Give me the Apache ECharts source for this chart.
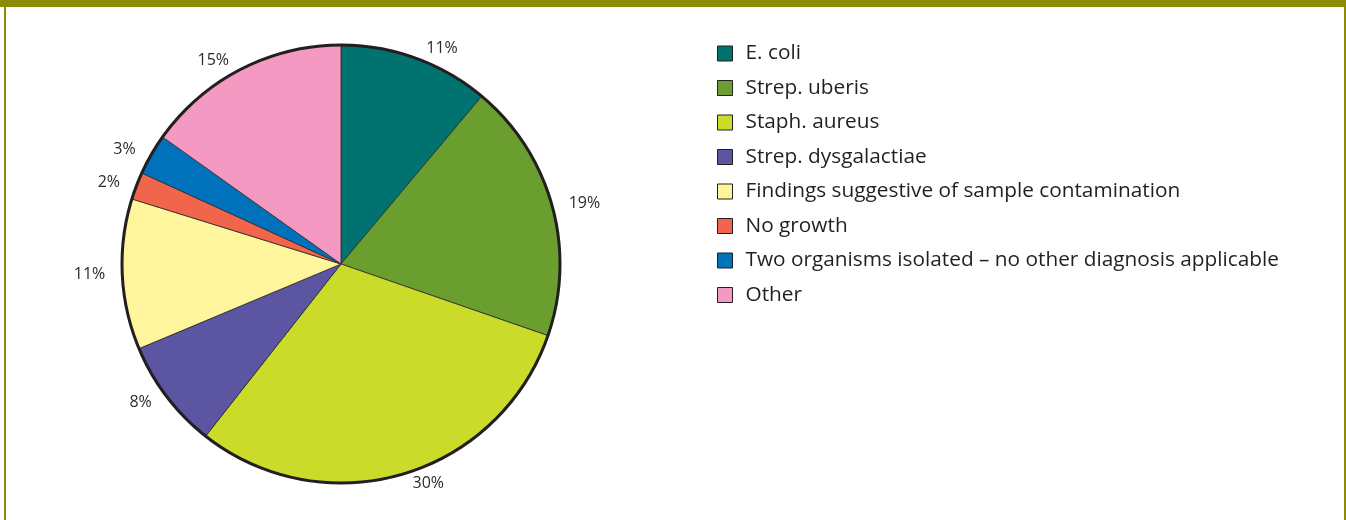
<!DOCTYPE html>
<html>
<head>
<meta charset="utf-8">
<script src="https://cdn.jsdelivr.net/npm/echarts@6/dist/echarts.min.js"></script>
<style>
  html, body { margin: 0; padding: 0; background: #fff; }
  #frame { position: relative; width: 1346px; height: 520px; overflow: hidden; }
  #topbar { position: absolute; left: 0; top: 0; width: 1346px; height: 7px; background: #8b8b07; }
  #leftbar { position: absolute; left: 4px; top: 0; width: 2px; height: 520px; background: #8b8b07; }
  #rightbar { position: absolute; left: 1344px; top: 0; width: 2px; height: 520px; background: #8b8b07; }
  #main { position: absolute; left: 0; top: 0; width: 1346px; height: 520px; }
</style>
</head>
<body>
<div id="frame">
  <div id="main"></div>
  <div id="topbar"></div>
  <div id="leftbar"></div>
  <div id="rightbar"></div>
</div>
<script>
var myChart = echarts.init(document.getElementById('main'));

// categories and percentages, clockwise from 12 o'clock
var categories = [
    'E. coli',
    'Strep. uberis',
    'Staph. aureus',
    'Strep. dysgalactiae',
    'Findings suggestive of sample contamination',
    'No growth',
    'Two organisms isolated \u2013 no other diagnosis applicable',
    'Other'
];
var percents = [11, 19, 30, 8, 11, 2, 3, 15];
var colors = ['#007370', '#6a9e2f', '#cbdb2a', '#5b55a2', '#fff59d', '#f0654b', '#0072bc', '#f49ac2'];

var pieData = categories.map(function (name, i) {
    return { name: name, value: percents[i], itemStyle: { color: colors[i] } };
});

var textFont = '"Open Sans", "Noto Sans", sans-serif';

option = {
    backgroundColor: '#ffffff',
    animation: false,
    legend: {
        orient: 'vertical',
        left: 712,
        top: 38,
        icon: 'rect',
        itemWidth: 15,
        itemHeight: 15,
        itemGap: 13.5,
        selectedMode: false,
        data: categories,
        itemStyle: { borderColor: '#231f20', borderWidth: 1 },
        textStyle: {
            color: '#231f20',
            fontSize: 20.8,
            lineHeight: 20,
            fontFamily: textFont,
            padding: [0, 0, 0, 8]
        }
    },
    series: [
        {
            type: 'pie',
            center: [341, 264],
            radius: 219,
            startAngle: 90,
            clockwise: true,
            avoidLabelOverlap: false,
            label: {
                show: true,
                position: 'outside',
                formatter: '{c}%',
                color: '#2b2b2b',
                fontSize: 16,
                fontFamily: textFont
            },
            labelLine: { show: false, length: 10, length2: 2 },
            itemStyle: { borderColor: '#2a2a2a', borderWidth: 0.8 },
            emphasis: { disabled: true },
            data: pieData
        },
        {
            // thick outer rim
            type: 'pie',
            center: [341, 264],
            radius: 219,
            silent: true,
            label: { show: false },
            labelLine: { show: false },
            itemStyle: { color: 'rgba(0,0,0,0)', borderColor: '#231f20', borderWidth: 3 },
            data: [{ value: 1, name: 'rim' }]
        }
    ]
};

myChart.setOption(option);
</script>
</body>
</html>
